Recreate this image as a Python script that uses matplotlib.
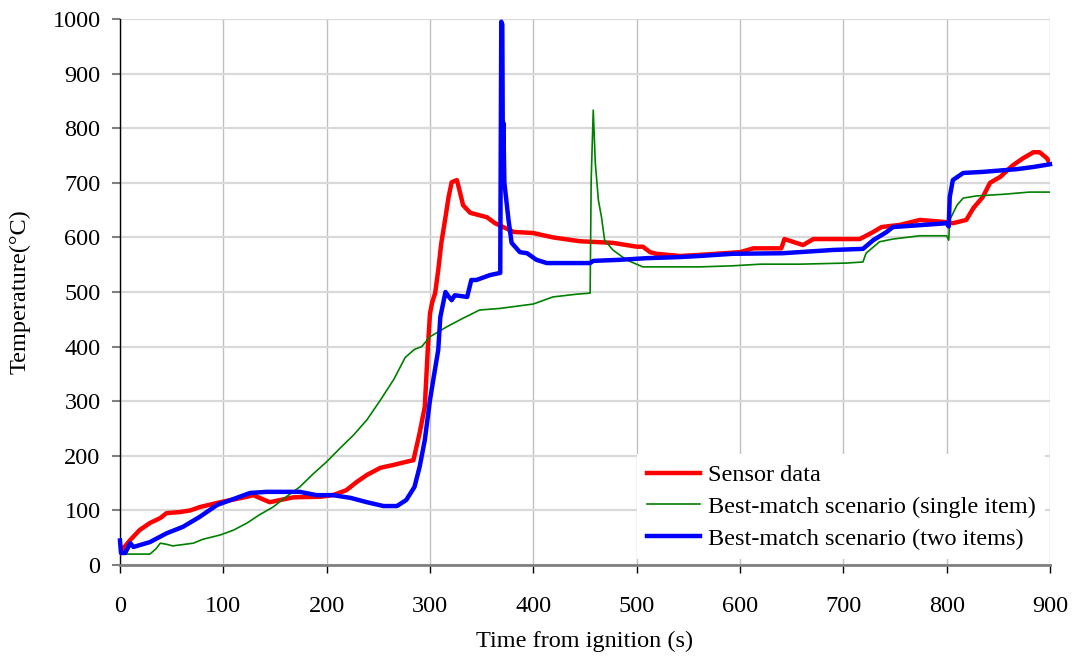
import matplotlib
matplotlib.use('Agg')
import matplotlib.pyplot as plt

plt.rcParams['font.family'] = ['Liberation Serif', 'DejaVu Serif']

# (time s, temperature C)
sensor = [(0, 22), (3, 30), (10, 46), (19, 64), (29, 77), (39, 86), (45, 95), (58, 97),
          (68, 100), (77, 106), (97, 115), (110, 120), (123, 125), (129, 128), (135, 123),
          (145, 115), (155, 119), (168, 124), (194, 125), (206, 128), (219, 137), (229, 152),
          (239, 165), (252, 178), (264, 183), (277, 189), (284, 192), (290, 242), (295, 290),
          (298, 400), (300, 460), (302, 480), (305, 498), (308, 540), (311, 590), (315, 637),
          (318, 674), (321, 701), (326, 705), (329, 683), (332, 659), (339, 645), (355, 637),
          (363, 626), (381, 610), (400, 608), (419, 600), (445, 593), (477, 590), (500, 583),
          (506, 583), (513, 573), (519, 570), (542, 566), (561, 568), (600, 573), (613, 580),
          (640, 580), (643, 597), (661, 586), (671, 597), (716, 597), (729, 610), (737, 619),
          (755, 623), (774, 632), (787, 630), (800, 628), (806, 626), (819, 632), (826, 654),
          (835, 674), (842, 700), (852, 711), (864, 732), (874, 745), (884, 756), (890, 756),
          (897, 745), (900, 736)]

single_item = [(0, 20), (29, 20), (35, 30), (39, 40), (45, 38), (51, 35), (71, 40), (80, 47),
               (97, 55), (110, 64), (123, 77), (135, 92), (148, 106), (161, 125), (174, 143),
               (187, 167), (200, 189), (213, 214), (226, 238), (239, 266), (252, 302),
               (265, 340), (276, 380), (285, 395), (292, 400), (300, 418), (316, 436),
               (332, 452), (348, 467), (368, 470), (400, 478), (419, 491), (442, 496),
               (455, 498), (456, 705), (458, 833), (460, 736), (463, 668), (466, 637),
               (469, 595), (477, 577), (490, 559), (506, 546), (526, 546), (542, 546),
               (561, 546), (593, 548), (620, 551), (658, 551), (703, 553), (719, 555),
               (722, 571), (735, 592), (748, 597), (774, 603), (800, 603), (802, 595),
               (803, 632), (810, 659), (816, 672), (829, 676), (855, 679), (880, 683),
               (900, 683)]

two_items = [(0, 45), (1, 22), (5, 22), (10, 40), (13, 33), (29, 42), (45, 58), (61, 70),
             (77, 88), (94, 110), (110, 121), (126, 132), (142, 134), (174, 134), (190, 128),
             (206, 128), (223, 123), (239, 115), (255, 108), (268, 108), (277, 119),
             (285, 143), (290, 180), (295, 229), (300, 302), (305, 360), (308, 394),
             (310, 454), (315, 500), (318, 492), (321, 485), (324, 494), (336, 491),
             (340, 522), (345, 522), (358, 531), (368, 535), (369, 995), (370, 990),
             (370.5, 760), (371, 810), (372, 700), (376, 632), (379, 590), (387, 573),
             (394, 571), (403, 559), (413, 553), (455, 553), (458, 557), (484, 559),
             (510, 562), (542, 564), (561, 566), (593, 570), (641, 571), (690, 577),
             (719, 579), (729, 595), (742, 610), (748, 619), (771, 622), (800, 626),
             (802, 620), (803, 674), (806, 705), (816, 718), (835, 720), (868, 725),
             (884, 729), (900, 734)]

fig = plt.figure(figsize=(10.78, 6.62), dpi=100)
ax = fig.add_axes([0.1113, 0.1465, 0.8627, 0.8248])

t, v = zip(*sensor)
ax.plot(t, v, color='#ff0000', lw=3.2, label='Sensor data', zorder=3)
t, v = zip(*single_item)
ax.plot(t, v, color='#008000', lw=1.2, label='Best-match scenario (single item)', zorder=3)
t, v = zip(*two_items)
ax.plot(t, v, color='#0000ff', lw=3.2, label='Best-match scenario (two items)', zorder=4,
        clip_on=False)

ax.set_xlim(0, 900)
ax.set_ylim(0, 1000)
ax.set_xticks(range(0, 901, 100))
ax.set_yticks(range(0, 1001, 100))

ax.yaxis.grid(True, color='#d9d9d9', lw=1.6)
ax.xaxis.grid(True, color='#c0c0c0', lw=1)
ax.set_axisbelow(True)

for s in ['top', 'right']:
    ax.spines[s].set_visible(False)
ax.spines['left'].set_color('black')
ax.spines['left'].set_linewidth(1)
ax.spines['bottom'].set_color('#808080')
ax.spines['bottom'].set_linewidth(2)

ax.tick_params(axis='y', direction='out', length=6, width=1.5, color='#808080',
               labelsize=17.5, pad=8)
ax.tick_params(axis='x', direction='out', length=6, width=1, color='black',
               labelsize=17.5, pad=16)

ax.set_xlabel('Time from ignition (s)', fontsize=17.5, labelpad=10)
ax.set_ylabel('Temperature(°C)', fontsize=17.5, labelpad=16)

leg = ax.legend(loc='lower right', bbox_to_anchor=(1.008, -0.012), fontsize=17.5,
                frameon=True, fancybox=False, framealpha=1, facecolor='white',
                edgecolor='none', handlelength=2.2, handletextpad=0.3,
                labelspacing=0.4, borderpad=0.4)
leg.set_zorder(2.4)  # keep spine and x=900 gridline edge on top

fig.savefig('out.png', dpi=100)
